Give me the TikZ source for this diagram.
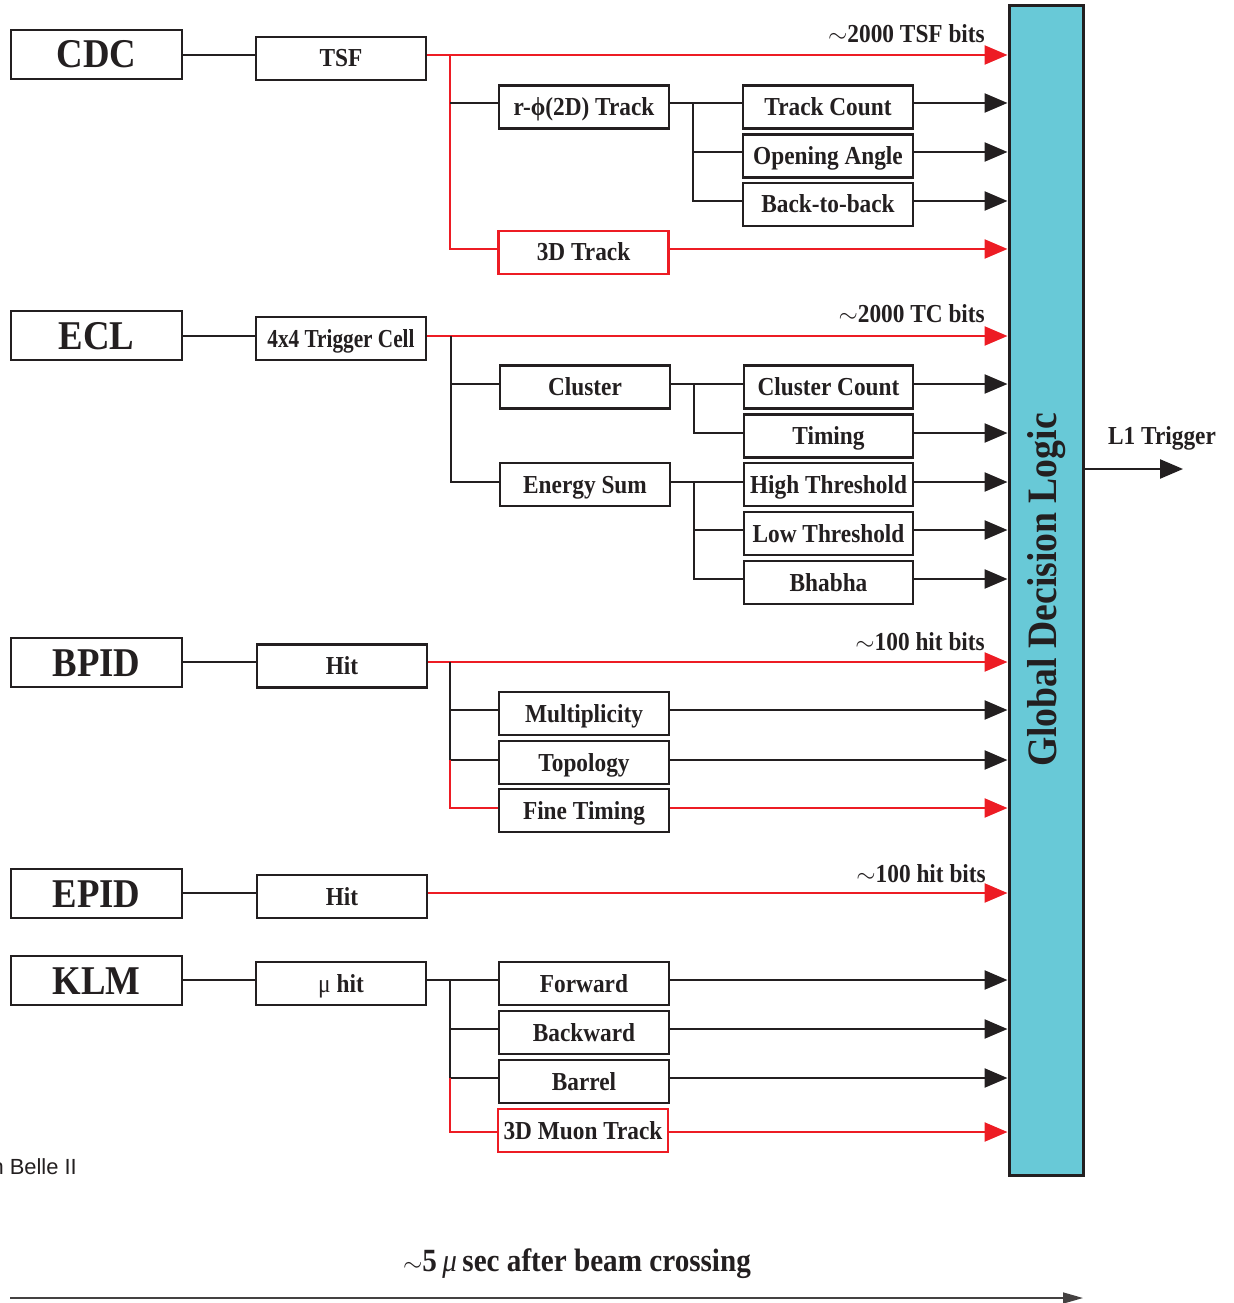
\documentclass[tikz,border=0pt]{standalone}
\usepackage{fontspec}
\setmainfont{Liberation Serif}
\newfontfamily\lbl[FakeStretch=0.9]{Liberation Serif}
\newfontfamily\lblc[FakeStretch=0.82]{Liberation Serif}
\newfontfamily\sfl{Liberation Sans}
\usetikzlibrary{arrows.meta}
\definecolor{ink}{HTML}{231F20}
\definecolor{tred}{HTML}{ED1C24}
\definecolor{gdlc}{HTML}{68C9D7}
\tikzset{
 box/.style={draw=ink, line width=2.6bp, minimum width=170bp, minimum height=43bp, inner sep=0pt, text height=17bp, text depth=0bp, font=\lbl\bfseries\fontsize{26}{26}\selectfont, text=ink},
 mainbox/.style={box, minimum width=171bp, minimum height=49bp, text height=27bp, font=\lbl\bfseries\fontsize{41}{41}\selectfont},
 redbox/.style={box, draw=tred},
 bk/.style={draw=ink, line width=2.4bp},
 rd/.style={draw=tred, line width=2.4bp},
 tip/.style={-{Triangle[length=23bp,width=19bp]}},
 lab/.style={font=\lbl\bfseries\fontsize{26}{26}\selectfont, text=ink, inner sep=0pt},
}
\begin{document}
\begin{tikzpicture}[x=1bp,y=-1bp]
\useasboundingbox (0,0) rectangle (1233,1303);
% rows of the connectors
\foreach \r in {55,103,152,201,249,336,384,433,482,530,579,662,710,760,808,893,980,1029,1078,1132}
  \coordinate (y\r) at (0,\r);
% Global decision logic
\node[draw=ink, fill=gdlc, line width=3bp, minimum width=74bp, minimum height=1169bp, inner sep=0pt] (gdl) at (1046,590.5) {};
\node[lab, rotate=90, font=\lbl\bfseries\fontsize{42}{42}\selectfont] (gdlt) at (1047,590) {Global Decision Logic};
% CDC
\node[mainbox] (cdc) at (96.5,54.5) {CDC};
\node[box] (tsf) at (341,58.5) {TSF};
\node[box] (rphi) at (584,107) {r-ϕ(2D) Track};
\node[box] (tcount) at (828,107) {Track Count};
\node[box] (oangle) at (828,156) {Opening Angle};
\node[box] (b2b) at (828,204.5) {Back-to-back};
\node[redbox] (t3d) at (583.5,252.5) {3D Track};
\coordinate (cdcT) at (450,55);
\coordinate (rphiT) at (693,103);
\draw[bk] (cdc.east |- y55) -- (tsf.west |- y55);
\draw[rd,tip] (tsf.east |- y55) -- (gdl.west |- y55);
\draw[rd] (cdcT) |- (t3d.west |- y249);
\draw[bk] (cdcT |- y103) -- (rphi.west |- y103);
\draw[bk] (rphi.east |- y103) -- (tcount.west |- y103);
\draw[bk] (rphiT) |- (b2b.west |- y201);
\draw[bk] (rphiT |- y152) -- (oangle.west |- y152);
\draw[bk,tip] (tcount.east |- y103) -- (gdl.west |- y103);
\draw[bk,tip] (oangle.east |- y152) -- (gdl.west |- y152);
\draw[bk,tip] (b2b.east |- y201) -- (gdl.west |- y201);
\draw[rd,tip] (t3d.east |- y249) -- (gdl.west |- y249);
\node[lab, anchor=base east] (lb1) at (985,43) {$\sim$2000 TSF bits};
% ECL
\node[mainbox] (ecl) at (96.5,335.5) {ECL};
\node[box, font=\lblc\bfseries\fontsize{26}{26}\selectfont] (tc) at (341,338.5) {4x4 Trigger Cell};
\node[box] (cluster) at (585,387) {Cluster};
\node[box] (esum) at (585,484.5) {Energy Sum};
\node[box, minimum width=169bp] (ccount) at (828.5,387) {Cluster Count};
\node[box, minimum width=169bp] (timing) at (828.5,436) {Timing};
\node[box, minimum width=169bp] (high) at (828.5,484.5) {High Threshold};
\node[box, minimum width=169bp] (low) at (828.5,533.5) {Low Threshold};
\node[box, minimum width=169bp] (bhabha) at (828.5,582.5) {Bhabha};
\coordinate (eclT) at (451,336);
\coordinate (clT) at (694,384);
\coordinate (esT) at (694,482);
\draw[bk] (ecl.east |- y336) -- (tc.west |- y336);
\draw[rd,tip] (tc.east |- y336) -- (gdl.west |- y336);
\draw[bk] (eclT) |- (esum.west |- y482);
\draw[bk] (eclT |- y384) -- (cluster.west |- y384);
\draw[bk] (cluster.east |- y384) -- (ccount.west |- y384);
\draw[bk] (clT) |- (timing.west |- y433);
\draw[bk] (esum.east |- y482) -- (high.west |- y482);
\draw[bk] (esT) |- (bhabha.west |- y579);
\draw[bk] (esT |- y530) -- (low.west |- y530);
\draw[bk,tip] (ccount.east |- y384) -- (gdl.west |- y384);
\draw[bk,tip] (timing.east |- y433) -- (gdl.west |- y433);
\draw[bk,tip] (high.east |- y482) -- (gdl.west |- y482);
\draw[bk,tip] (low.east |- y530) -- (gdl.west |- y530);
\draw[bk,tip] (bhabha.east |- y579) -- (gdl.west |- y579);
\node[lab, anchor=base east] (lb2) at (985,323) {$\sim$2000 TC bits};
% BPID
\node[mainbox] (bpid) at (96.5,662.5) {BPID};
\node[box] (bhit) at (342,666) {Hit};
\node[box] (mult) at (584,713.5) {Multiplicity};
\node[box] (topo) at (584,762.5) {Topology};
\node[box] (fine) at (584,810.5) {Fine Timing};
\coordinate (bT) at (450,662);
\draw[bk] (bpid.east |- y662) -- (bhit.west |- y662);
\draw[rd,tip] (bhit.east |- y662) -- (gdl.west |- y662);
\draw[bk] (bT) -- (bT |- y760);
\draw[bk] (bT |- y710) -- (mult.west |- y710);
\draw[bk] (bT |- y760) -- (topo.west |- y760);
\draw[rd] (bT |- y760) |- (fine.west |- y808);
\draw[bk,tip] (mult.east |- y710) -- (gdl.west |- y710);
\draw[bk,tip] (topo.east |- y760) -- (gdl.west |- y760);
\draw[rd,tip] (fine.east |- y808) -- (gdl.west |- y808);
\node[lab, anchor=base east] (lb3) at (985,650) {$\sim$100 hit bits};
% EPID
\node[mainbox] (epid) at (96.5,893.5) {EPID};
\node[box] (ehit) at (342,896.5) {Hit};
\draw[bk] (epid.east |- y893) -- (ehit.west |- y893);
\draw[rd,tip] (ehit.east |- y893) -- (gdl.west |- y893);
\node[lab, anchor=base east] (lb4) at (986,882) {$\sim$100 hit bits};
% KLM
\node[mainbox] (klm) at (96.5,980.5) {KLM};
\node[box] (muhit) at (341,983.5) {{\mdseries μ} hit};
\node[box] (fwd) at (584,983.5) {Forward};
\node[box] (bwd) at (584,1032.5) {Backward};
\node[box] (barrel) at (584,1081.5) {Barrel};
\node[redbox] (muon) at (583,1130.5) {3D Muon Track};
\coordinate (kT) at (450,980);
\draw[bk] (klm.east |- y980) -- (muhit.west |- y980);
\draw[bk] (muhit.east |- y980) -- (fwd.west |- y980);
\draw[bk] (kT) -- (kT |- y1078);
\draw[bk] (kT |- y1029) -- (bwd.west |- y1029);
\draw[bk] (kT |- y1078) -- (barrel.west |- y1078);
\draw[rd] (kT |- y1078) |- (muon.west |- y1132);
\draw[bk,tip] (fwd.east |- y980) -- (gdl.west |- y980);
\draw[bk,tip] (bwd.east |- y1029) -- (gdl.west |- y1029);
\draw[bk,tip] (barrel.east |- y1078) -- (gdl.west |- y1078);
\draw[rd,tip] (muon.east |- y1132) -- (gdl.west |- y1132);
% output
\coordinate (l1) at (1183,469);
\draw[bk,tip] (gdl.east |- l1) -- (l1);
\node[lab] (l1t) at (1162,438) {L1 Trigger};
% footer
\node[font=\sfl\fontsize{22}{22}\selectfont, anchor=east, inner sep=0pt, text=ink] (belle) at (77,1167) {in Belle II};
\node[lab, font=\lbl\bfseries\fontsize{32.5}{32.5}\selectfont] (time) at (577,1264) {$\sim$5\,{\mdseries\itshape μ}\,sec after beam crossing};
\coordinate (ts) at (10,1298);
\coordinate (te) at (1083,1298);
\draw[draw=ink!85, line width=1.6bp, -{Triangle[length=20bp,width=11bp]}] (ts) -- (te);
\end{tikzpicture}
\end{document}
